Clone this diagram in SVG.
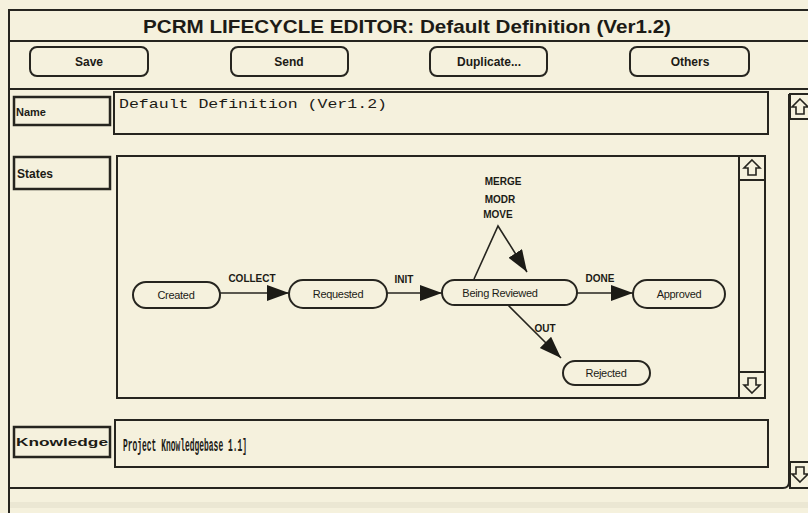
<svg xmlns="http://www.w3.org/2000/svg" xmlns:xlink="http://www.w3.org/1999/xlink" width="808" height="513" viewBox="0 0 808 513">
  <style>
    .ln { fill: none; stroke: #26251f; stroke-width: 2; }
    .box { fill: #f5f1dd; stroke: #26251f; stroke-width: 2; }
    .lbl { fill: #f5f1dd; stroke: #26251f; stroke-width: 2.5; }
    .title { font-family: "Liberation Sans", Arial, sans-serif; font-weight: bold; font-size: 19px; fill: #1c1b16; }
    .btn { font-family: "Liberation Sans", Arial, sans-serif; font-weight: bold; font-size: 12px; fill: #1c1b16; text-anchor: middle; }
    .fld { font-family: "Liberation Sans", Arial, sans-serif; font-weight: bold; font-size: 11px; fill: #1c1b16; }
    .mono { font-family: "Liberation Mono", "Courier New", monospace; font-size: 13px; fill: #1c1b16; }
    .node { fill: #f5f1dd; stroke: #26251f; stroke-width: 2; }
    .ntxt { font-family: "Liberation Sans", Arial, sans-serif; font-size: 11px; fill: #1c1b16; text-anchor: middle; letter-spacing: -0.3px; }
    .etxt { font-family: "Liberation Sans", Arial, sans-serif; font-weight: bold; font-size: 10px; fill: #1c1b16; text-anchor: middle; }
    .edge { fill: none; stroke: #26251f; stroke-width: 1.6; }
    .arrowglyph { fill: none; stroke: #26251f; stroke-width: 1.6; stroke-linejoin: miter; }
  </style>
  <defs>
    <marker id="head" markerUnits="userSpaceOnUse" markerWidth="24" markerHeight="18" refX="22" refY="8" orient="auto">
      <path d="M0,0 L22,8 L0,16 Z" fill="#1c1b16"/>
    </marker>
    <path id="upArrow" class="arrowglyph" d="M0,-8 L8,0 L4,0 L4,7 L-4,7 L-4,0 L-8,0 Z"/>
    <path id="downArrow" class="arrowglyph" d="M0,8 L8,0 L4,0 L4,-7 L-4,-7 L-4,0 L-8,0 Z"/>
  </defs>

  <!-- window background -->
  <rect x="0" y="0" width="808" height="513" fill="#f5f1dd"/>
  <rect x="10" y="502" width="798" height="6" fill="#ebe7d3"/>

  <!-- window frame -->
  <g id="frame">
    <path class="ln" d="M9,513 L9,10 L808,10"/>
    <line class="ln" x1="9" y1="41" x2="808" y2="41"/>
    <line class="ln" x1="9" y1="89" x2="808" y2="89"/>
    <path class="ln" d="M9,488 L783,488 Q789,488 789,482 L789,94"/>
    <text class="title" x="407" y="33" text-anchor="middle" textLength="528" lengthAdjust="spacingAndGlyphs">PCRM LIFECYCLE EDITOR: Default Definition (Ver1.2)</text>
  </g>

  <!-- toolbar buttons -->
  <g id="btn-save">
    <rect class="box" x="30" y="47" width="118" height="29" rx="7"/>
    <text class="btn" x="89" y="66">Save</text>
  </g>
  <g id="btn-send">
    <rect class="box" x="231" y="47" width="117" height="29" rx="7"/>
    <text class="btn" x="289" y="66">Send</text>
  </g>
  <g id="btn-duplicate">
    <rect class="box" x="430" y="47" width="117" height="29" rx="7"/>
    <text class="btn" x="489" y="66">Duplicate...</text>
  </g>
  <g id="btn-others">
    <rect class="box" x="630" y="47" width="119" height="29" rx="7"/>
    <text class="btn" x="690" y="66">Others</text>
  </g>

  <!-- outer scrollbar -->
  <g id="outer-scroll">
    <rect class="box" x="790" y="94" width="20" height="25"/>
    <use xlink:href="#upArrow" x="800" y="107"/>
    <rect class="box" x="790" y="462" width="20" height="26"/>
    <use xlink:href="#downArrow" x="800" y="474"/>
  </g>

  <!-- Name row -->
  <g id="name-label">
    <rect class="lbl" x="14" y="97" width="96" height="28"/>
    <text class="fld" x="16" y="116">Name</text>
  </g>
  <g id="name-field">
    <rect class="box" x="114" y="92" width="654" height="42"/>
    <text class="mono" x="119" y="108" textLength="268" lengthAdjust="spacingAndGlyphs">Default Definition (Ver1.2)</text>
  </g>

  <!-- States row -->
  <g id="states-label">
    <rect class="lbl" x="14" y="157" width="96" height="32"/>
    <text class="fld" x="17" y="178" style="font-size:12px">States</text>
  </g>
  <g id="states-panel">
    <rect class="box" x="117" y="156" width="648" height="242"/>
    <line class="ln" x1="739" y1="156" x2="739" y2="398"/>
    <line class="ln" x1="739" y1="180" x2="765" y2="180"/>
    <line class="ln" x1="739" y1="372" x2="765" y2="372"/>
    <use xlink:href="#upArrow" x="752" y="168"/>
    <use xlink:href="#downArrow" x="752" y="385"/>
  </g>

  <!-- state graph connectors -->
  <g id="connectors">
    <line class="edge" x1="220" y1="293" x2="289" y2="293" marker-end="url(#head)"/>
    <line class="edge" x1="387" y1="293" x2="442" y2="293" marker-end="url(#head)"/>
    <line class="edge" x1="577" y1="293" x2="633" y2="293" marker-end="url(#head)"/>
    <line class="edge" x1="508" y1="305" x2="561" y2="358" marker-end="url(#head)"/>
    <path class="edge" d="M474,279 L498,226 L527,272" marker-end="url(#head)"/>
    <text class="etxt" x="252" y="282">COLLECT</text>
    <text class="etxt" x="404" y="283">INIT</text>
    <text class="etxt" x="600" y="282">DONE</text>
    <text class="etxt" x="545" y="332">OUT</text>
    <text class="etxt" x="503" y="185">MERGE</text>
    <text class="etxt" x="500" y="203">MODR</text>
    <text class="etxt" x="498" y="218">MOVE</text>
  </g>

  <!-- states -->
  <g id="state-created">
    <rect class="node" x="133" y="282" width="87" height="26" rx="13"/>
    <text class="ntxt" x="176" y="299">Created</text>
  </g>
  <g id="state-requested">
    <rect class="node" x="289" y="280" width="98" height="28" rx="14"/>
    <text class="ntxt" x="338" y="298">Requested</text>
  </g>
  <g id="state-being-reviewed">
    <rect class="node" x="442" y="280" width="135" height="25" rx="12.5"/>
    <text class="ntxt" x="500" y="297">Being Reviewed</text>
  </g>
  <g id="state-approved">
    <rect class="node" x="633" y="280" width="92" height="28" rx="14"/>
    <text class="ntxt" x="679" y="298">Approved</text>
  </g>
  <g id="state-rejected">
    <rect class="node" x="563" y="361" width="87" height="24" rx="12"/>
    <text class="ntxt" x="606" y="377">Rejected</text>
  </g>

  <!-- Knowledge row -->
  <g id="knowledge-label">
    <rect class="lbl" x="14" y="427" width="96" height="30"/>
    <text class="fld" x="16" y="446" textLength="92" lengthAdjust="spacingAndGlyphs">Knowledge</text>
  </g>
  <g id="knowledge-field">
    <rect class="box" x="115" y="420" width="653" height="47"/>
    <text class="mono" x="123" y="451" style="font-size:19px;font-weight:bold" textLength="124" lengthAdjust="spacingAndGlyphs">Project Knowledgebase 1.1]</text>
  </g>
</svg>
